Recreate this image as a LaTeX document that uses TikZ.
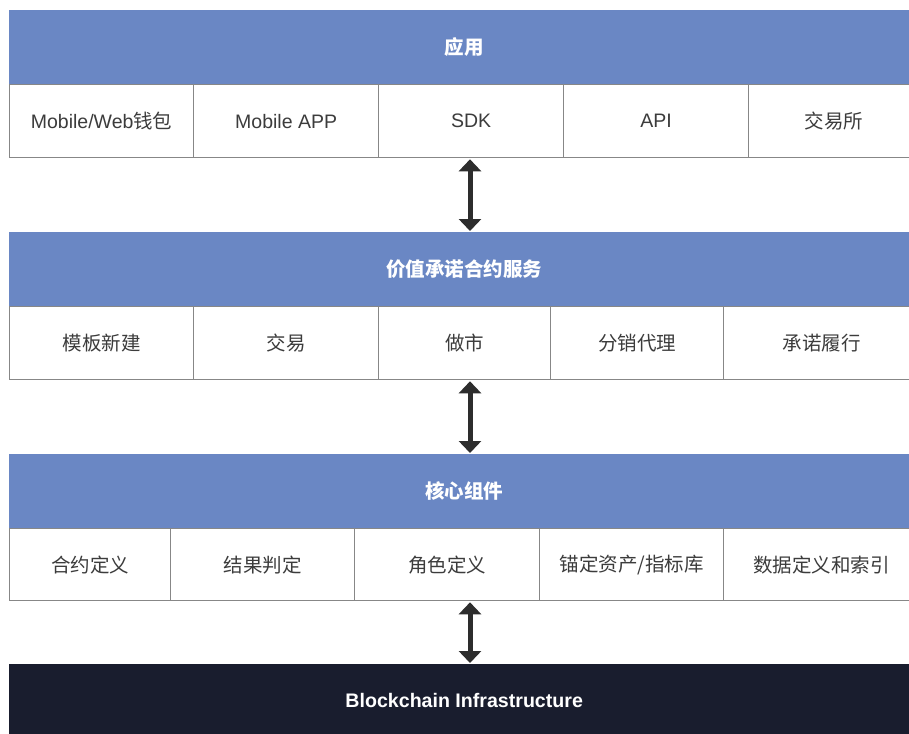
\documentclass[tikz,border=0pt]{standalone}
\usepackage{fontspec}
\setmainfont{Liberation Sans}
\newfontfamily\cjk{Noto Sans CJK SC}
\usetikzlibrary{arrows.meta}
\definecolor{hdrblue}{RGB}{106,135,196}
\definecolor{navy}{RGB}{25,29,46}
\definecolor{cellline}{RGB}{135,135,135}
\definecolor{celltext}{RGB}{60,60,60}
\definecolor{arrowc}{RGB}{45,45,45}
\begin{document}
\begin{tikzpicture}[x=1pt,y=-1pt,
  header/.style={fill=hdrblue, draw=none, minimum width=910pt, minimum height=74pt,
    inner sep=0pt, anchor=north west, text=white,
    font=\fontsize{19.5}{23}\selectfont\cjk\bfseries},
  cell/.style={draw=cellline, line width=1.3pt, fill=white, minimum height=73pt,
    inner sep=0pt, anchor=north west, text=celltext,
    font=\fontsize{19.5}{23}\selectfont},
  base/.style={fill=navy, draw=none, minimum width=910pt, minimum height=72pt,
    inner sep=0pt, anchor=north west, text=white,
    font=\fontsize{19.6}{23}\selectfont\bfseries},
  dbl/.style={draw=arrowc, line width=5pt,
    {Triangle[width=22pt,length=12pt]}-{Triangle[width=22pt,length=12pt]},
    shorten >=1pt, shorten <=1pt}
]
\useasboundingbox (0,0) rectangle (909,733);
\fill[white] (0,0) rectangle (909,733);

% layer 1
\node[header] (h1) at (9,10) {应用};
\node[cell, minimum width=184pt] (c11) at (9,84) {Mobile/Web{\cjk 钱包}};
\node[cell, minimum width=185pt] (c12) at (193,84) {Mobile APP};
\node[cell, minimum width=185pt] (c13) at (378,84) {SDK};
\node[cell, minimum width=185pt] (c14) at (563,84) {API};
\node[cell, minimum width=171pt] (c15) at (748,84) {\cjk 交易所};

% layer 2
\node[header] (h2) at (9,232) {价值承诺合约服务};
\node[cell, minimum width=184pt] (c21) at (9,306) {\cjk 模板新建};
\node[cell, minimum width=185pt] (c22) at (193,306) {\cjk 交易};
\node[cell, minimum width=172pt] (c23) at (378,306) {\cjk 做市};
\node[cell, minimum width=173pt] (c24) at (550,306) {\cjk 分销代理};
\node[cell, minimum width=196pt] (c25) at (723,306) {\cjk 承诺履行};

% layer 3
\node[header] (h3) at (9,454) {核心组件};
\node[cell, minimum width=161pt, minimum height=72pt] (c31) at (9,528) {\cjk 合约定义};
\node[cell, minimum width=184pt, minimum height=72pt] (c32) at (170,528) {\cjk 结果判定};
\node[cell, minimum width=185pt, minimum height=72pt] (c33) at (354,528) {\cjk 角色定义};
\node[cell, minimum width=184pt, minimum height=72pt] (c34) at (539,528) {\cjk 锚定资产/指标库};
\node[cell, minimum width=196pt, minimum height=72pt] (c35) at (723,528) {\cjk 数据定义和索引};

% base layer
\node[base] (b) at (9,664) {Blockchain Infrastructure};

% arrows
\coordinate (ax) at (470,0);
\draw[dbl] (ax |- c13.south) -- (ax |- h2.north);
\draw[dbl] (ax |- c23.south) -- (ax |- h3.north);
\draw[dbl] (ax |- c33.south) -- (ax |- b.north);
\end{tikzpicture}
\end{document}
